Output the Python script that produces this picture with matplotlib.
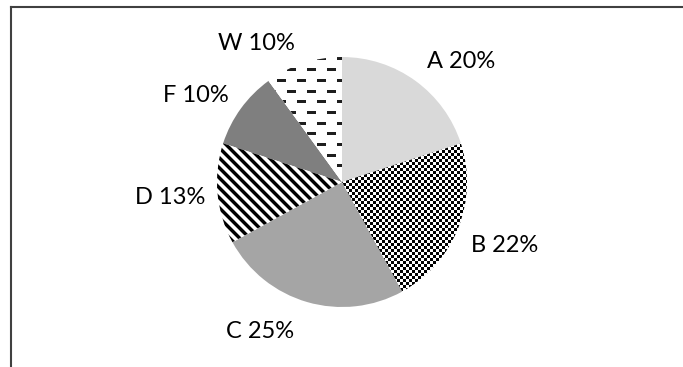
import numpy as np
import matplotlib
matplotlib.use("Agg")
import matplotlib.pyplot as plt
from matplotlib.lines import Line2D

# data
categories = ["A", "B", "C", "D", "F", "W"]
shares = [20, 22, 25, 13, 10, 10]
labels = [f"{c} {v}%" for c, v in zip(categories, shares)]

# styling
fills = ["#d9d9d9", "white", "#a5a5a5", "white", "#7f7f7f", "white"]
textures = [None, "checker", None, "diag", None, "dash"]
label_pos = [(0.952, 0.968), (1.304, -0.504), (-0.656, -1.192),
             (-1.376, -0.128), (-1.168, 0.688), (-0.688, 1.112)]

W, H = 683, 367
fig = plt.figure(figsize=(W / 100, H / 100), dpi=100)
fig.patch.set_facecolor("white")

cx, cy, r = 342, 182, 125
ax = fig.add_axes([(cx - r) / W, (H - cy - r) / H, 2 * r / W, 2 * r / H])
wedges, _ = ax.pie(shares, startangle=90, counterclock=False, colors=fills,
                   wedgeprops=dict(linewidth=0, edgecolor="none"))
ax.set_xlim(-1, 1)
ax.set_ylim(-1, 1)
ax.set_aspect("equal")
ax.axis("off")

N = 2 * r
rows, cols = np.mgrid[0:N, 0:N]

def texture(kind):
    if kind == "checker":
        c = 3
        v = ((rows // c + cols // c) % 2).astype(float)
        return v
    if kind == "diag":
        ph = (cols - rows) % 10
        v = np.where(ph < 4, 0.0, 1.0)
        v = np.where((ph == 4) | (ph == 9), 0.55, v)
        return v
    if kind == "dash":
        v = np.ones((N, N))
        rowper = 10.7
        ri = np.floor(rows / rowper).astype(int)
        rp = rows - ri * rowper
        off = np.where(ri % 2 == 0, 0, 10)
        cp = (cols + off) % 20
        mask = (rp < 3) & (cp < 9)
        v[mask] = 0.12
        return v
    return None

for wdg, kind in zip(wedges, textures):
    if kind is None:
        continue
    img = texture(kind)
    im = ax.imshow(img, cmap="gray", vmin=0, vmax=1, extent=(-1, 1, -1, 1),
                   origin="upper", interpolation="nearest", zorder=3)
    im.set_clip_path(wdg)

for lab, (x, y) in zip(labels, label_pos):
    ax.text(x, y, lab, ha="center", va="center", fontsize=17,
            family=["Lato", "DejaVu Sans"], color="#000000", clip_on=False)

# frame lines (top and left)
fig.add_artist(Line2D([11 / W, 11 / W], [0, 1 - 6.5 / H], transform=fig.transFigure,
                      color="#404040", linewidth=1.5))
fig.add_artist(Line2D([11 / W, 1], [1 - 6.5 / H, 1 - 6.5 / H], transform=fig.transFigure,
                      color="#404040", linewidth=1.5))

fig.savefig("out.png", dpi=100)
